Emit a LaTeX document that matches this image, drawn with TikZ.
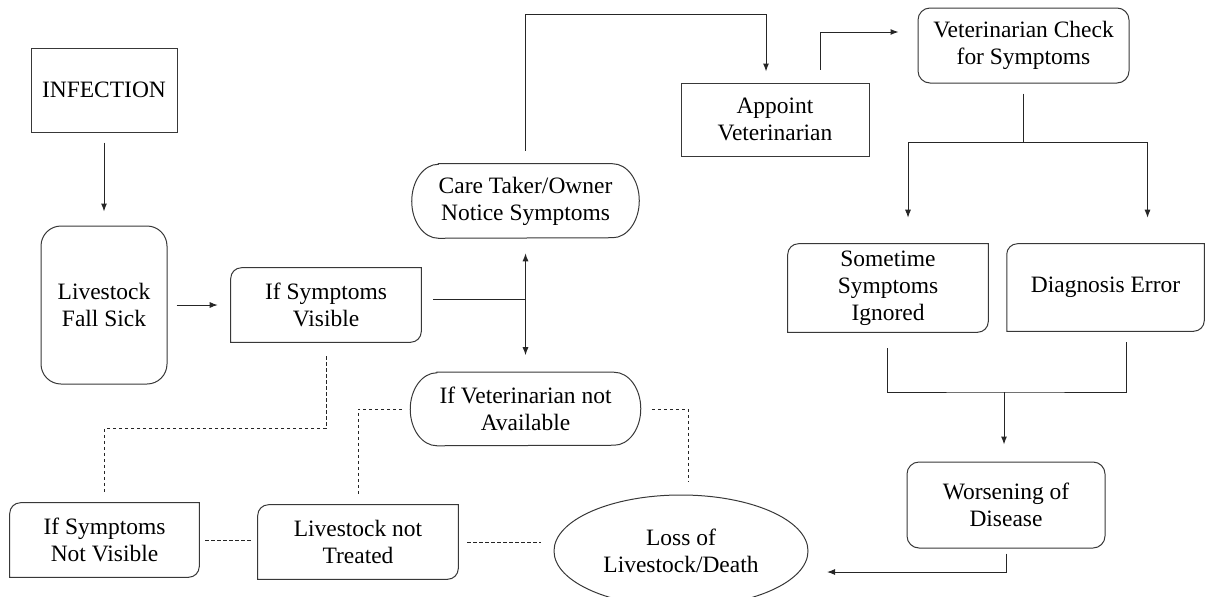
\documentclass[tikz,border=0pt]{standalone}
\usepackage{fontspec}
\setmainfont{Liberation Serif}
\usetikzlibrary{arrows.meta,shapes.geometric}

% stadium outline with elliptical ends: node name, x radius, y radius
\newcommand\stadiumframe[3]{%
  \draw[boxline] ([xshift=#2]#1.north west) -- ([xshift=-#2]#1.north east)
    arc[start angle=90,end angle=-90,x radius=#2,y radius=#3]
    -- ([xshift=#2]#1.south west)
    arc[start angle=270,end angle=90,x radius=#2,y radius=#3] -- cycle;}

% box with only the top-left and bottom-right corners rounded: node name, radius
\newcommand\diagframe[2]{%
  \draw[boxline] (#1.south west) -- ([yshift=-#2]#1.north west)
    arc[start angle=180,end angle=90,radius=#2] -- (#1.north east)
    -- ([yshift=#2]#1.south east)
    arc[start angle=0,end angle=-90,radius=#2] -- cycle;}

\begin{document}
\begin{tikzpicture}[x=0.75pt,y=0.75pt,
  every node/.style={font=\fontsize{17.6}{20.25}\selectfont, align=center,
    inner sep=0pt, text=black},
  boxline/.style={draw=black!78, line width=0.75pt},
  conn/.style={draw=black!85, line width=0.75pt},
  arr/.style={conn, -{Latex[length=6pt,width=4.5pt]}},
  darr/.style={conn, {Latex[length=6pt,width=4.5pt]}-{Latex[length=6pt,width=4.5pt]}},
  dotline/.style={draw=black!85, line width=0.65pt, dash pattern=on 2.6pt off 1.9pt},
]
\useasboundingbox (0,0) rectangle (1205,-596);

% ---- nodes ----
\node[boxline, minimum width=109.5pt, minimum height=63pt] (infection) at (104,-90) {INFECTION};
\node[boxline, rounded corners=15pt, minimum width=94.5pt, minimum height=118.5pt] (sick) at (104,-305) {Livestock\\Fall Sick};
\node[minimum width=142.5pt, minimum height=55.5pt] (visible) at (326,-305) {If Symptoms\\Visible};
\node[minimum width=170.25pt, minimum height=55.5pt] (care) at (525.5,-201) {Care Taker/Owner\\Notice Symptoms};
\node[minimum width=172.5pt, minimum height=54.75pt] (ifvet) at (525.5,-409) {If Veterinarian not\\Available};
\node[boxline, minimum width=141pt, minimum height=54.75pt] (appoint) at (775,-119.5) {Appoint\\Veterinarian};
\node[boxline, rounded corners=9pt, minimum width=158.25pt, minimum height=56.25pt] (vetcheck) at (1023.5,-45.5) {Veterinarian Check\\for Symptoms};
\node[minimum width=150pt, minimum height=66pt] (sometime) at (888,-288) {Sometime\\Symptoms\\Ignored};
\node[minimum width=147.75pt, minimum height=65.25pt] (diagnosis) at (1105.5,-287.5) {Diagnosis Error};
\node[boxline, rounded corners=9pt, minimum width=148.5pt, minimum height=64.5pt] (worsening) at (1006,-505) {Worsening of\\Disease};
\node[minimum width=141.75pt, minimum height=55.5pt] (notvis) at (104.5,-540) {If Symptoms\\Not Visible};
\node[minimum width=150pt, minimum height=55.5pt] (nottreated) at (358,-542) {Livestock not\\Treated};
\node[boxline, ellipse, minimum width=190.5pt, minimum height=84pt] (loss) at (681,-551) {Loss of\\Livestock/Death};

% ---- outlines of the special shapes ----
\stadiumframe{care}{20pt}{27.75pt}
\stadiumframe{ifvet}{20pt}{27.375pt}
\foreach \n in {visible,notvis,nottreated,sometime,diagnosis}
  {\diagframe{\n}{8pt}}

% ---- solid connectors ----
\draw[arr, shorten <=7.5pt, shorten >=10.5pt] (infection.south) -- (sick.north);
\draw[arr, shorten <=6.75pt, shorten >=9.75pt] (sick.east) -- (visible.west);

\coordinate (junction) at (525.5,-299);
\draw[conn, shorten <=9pt] ([yshift=4.5pt]visible.east) -- (junction);
\draw[darr, shorten <=11.25pt, shorten >=12.75pt] (care.south) -- (ifvet.north);

\coordinate (apin) at ([xshift=-6.75pt]appoint.north);
\draw[arr, shorten <=9.75pt, shorten >=8.25pt] (care.north) -- ++(0,149) -| (apin);

\coordinate (apout) at ([xshift=33.75pt]appoint.north);
\coordinate (vcin) at ([yshift=10.125pt]vetcheck.west);
\draw[arr, shorten <=9.75pt, shorten >=14.25pt] (apout) |- (vcin);

\coordinate (split) at (1023.5,-142);
\draw[conn, shorten <=7.5pt] (vetcheck.south) -- (split);
\draw[arr, shorten >=19.5pt] (split) -| ([xshift=15pt]sometime.north);
\draw[arr, shorten >=19.5pt] (split) -| ([xshift=31.5pt]diagnosis.north);

\coordinate (merge) at (1004,-392);
\draw[conn, shorten <=12pt, shorten >=8.25pt] ([xshift=-0.75pt]sometime.south) |- (merge) -| ([xshift=15.75pt]diagnosis.south);
\draw[arr, shorten >=12.75pt] (merge) -- (merge |- worsening.north);

\coordinate (lossin) at (827,-572);
\draw[arr, shorten <=3.75pt] (worsening.south) |- (lossin);

% ---- dashed connectors ----
\draw[dotline, shorten <=10.5pt, shorten >=6.75pt] (visible.south) -- ++(0,-86) -| (notvis.north);
\draw[dotline, shorten <=6pt, shorten >=7.5pt] (ifvet.west) -| (nottreated.north);
\draw[dotline, shorten <=8.25pt, shorten >=9.75pt] (ifvet.east) -| ([xshift=5.25pt]loss.north);
\draw[dotline, shorten <=4.5pt, shorten >=5.25pt] (notvis.east) -- (notvis.east -| nottreated.west);
\draw[dotline, shorten <=6.75pt, shorten >=9.75pt] (nottreated.east) -- (nottreated.east -| loss.west);
\end{tikzpicture}
\end{document}
